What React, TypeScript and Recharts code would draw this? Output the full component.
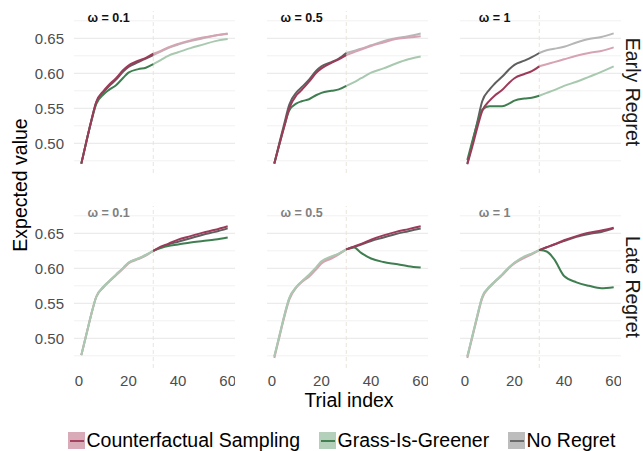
import React from 'react';
import { LineChart, Line, XAxis, YAxis, ReferenceLine, ReferenceDot } from 'recharts';

// ---- data ----
const TRIALS = [1, 3, 5, 7, 10, 12, 15, 18, 20, 24, 27, 30, 33, 36, 40, 45, 50, 55, 60];
const SWITCH_TRIAL = 30;
const OMEGA_LABELS = ['ω = 0.1', 'ω = 0.5', 'ω = 1'];
const ROW_LABELS = ['Early Regret', 'Late Regret'];
const SERIES_NAMES = ['Counterfactual Sampling', 'Grass-Is-Greener', 'No Regret'];
const Y_TICKS = [0.5, 0.55, 0.6, 0.65];
const Y_MINOR = [0.475, 0.525, 0.575, 0.625, 0.675];
const X_TICKS = [0, 20, 40, 60];

// Early Regret
const earlyW01CS = [0.471, 0.502, 0.532, 0.559, 0.575, 0.583, 0.593, 0.605, 0.611, 0.618, 0.622, 0.628, 0.632, 0.637, 0.642, 0.647, 0.651, 0.654, 0.657];
const earlyW01GIG = [0.471, 0.502, 0.531, 0.556, 0.570, 0.576, 0.583, 0.594, 0.601, 0.606, 0.608, 0.613, 0.619, 0.625, 0.630, 0.636, 0.641, 0.646, 0.649];
const earlyW01NR = [0.471, 0.502, 0.532, 0.558, 0.573, 0.581, 0.591, 0.603, 0.609, 0.616, 0.621, 0.626, 0.631, 0.636, 0.641, 0.646, 0.650, 0.654, 0.656];

const earlyW05CS = [0.471, 0.498, 0.524, 0.550, 0.569, 0.576, 0.588, 0.601, 0.607, 0.615, 0.620, 0.626, 0.630, 0.634, 0.639, 0.644, 0.649, 0.651, 0.653];
const earlyW05GIG = [0.471, 0.498, 0.524, 0.547, 0.557, 0.560, 0.563, 0.569, 0.572, 0.575, 0.577, 0.582, 0.587, 0.593, 0.601, 0.607, 0.614, 0.620, 0.624];
const earlyW05NR = [0.471, 0.500, 0.528, 0.555, 0.573, 0.580, 0.591, 0.604, 0.610, 0.616, 0.621, 0.629, 0.632, 0.635, 0.640, 0.646, 0.650, 0.653, 0.657];

const earlyW1CS = [0.470, 0.495, 0.522, 0.546, 0.561, 0.568, 0.576, 0.587, 0.593, 0.599, 0.603, 0.610, 0.613, 0.616, 0.620, 0.625, 0.629, 0.632, 0.637];
const earlyW1GIG = [0.476, 0.503, 0.528, 0.548, 0.553, 0.553, 0.553, 0.557, 0.561, 0.564, 0.565, 0.568, 0.572, 0.576, 0.582, 0.588, 0.595, 0.602, 0.610];
const earlyW1NR = [0.471, 0.500, 0.530, 0.560, 0.577, 0.585, 0.595, 0.606, 0.612, 0.618, 0.623, 0.629, 0.633, 0.635, 0.638, 0.644, 0.649, 0.652, 0.657];

// Late Regret
const lateW01CS = [0.476, 0.505, 0.534, 0.559, 0.573, 0.580, 0.590, 0.600, 0.607, 0.613, 0.618, 0.625, 0.631, 0.635, 0.641, 0.646, 0.651, 0.655, 0.660];
const lateW01GIG = [0.476, 0.505, 0.534, 0.559, 0.574, 0.581, 0.591, 0.601, 0.608, 0.614, 0.619, 0.625, 0.629, 0.632, 0.634, 0.637, 0.639, 0.641, 0.644];
const lateW01NR = [0.476, 0.505, 0.534, 0.559, 0.574, 0.581, 0.591, 0.601, 0.608, 0.614, 0.619, 0.625, 0.630, 0.634, 0.638, 0.643, 0.648, 0.652, 0.657];

const lateW05CS = [0.472, 0.501, 0.530, 0.555, 0.573, 0.580, 0.588, 0.599, 0.607, 0.614, 0.620, 0.627, 0.631, 0.635, 0.641, 0.647, 0.652, 0.656, 0.660];
const lateW05GIG = [0.474, 0.503, 0.532, 0.557, 0.574, 0.581, 0.591, 0.602, 0.610, 0.617, 0.621, 0.627, 0.630, 0.622, 0.614, 0.609, 0.606, 0.603, 0.601];
const lateW05NR = [0.474, 0.503, 0.532, 0.557, 0.574, 0.581, 0.590, 0.601, 0.609, 0.616, 0.621, 0.627, 0.630, 0.634, 0.639, 0.644, 0.649, 0.653, 0.657];

const lateW1CS = [0.472, 0.501, 0.530, 0.557, 0.573, 0.580, 0.590, 0.601, 0.607, 0.615, 0.620, 0.626, 0.630, 0.634, 0.640, 0.646, 0.651, 0.654, 0.658];
const lateW1GIG = [0.474, 0.503, 0.532, 0.559, 0.574, 0.581, 0.591, 0.602, 0.608, 0.617, 0.621, 0.626, 0.624, 0.613, 0.589, 0.580, 0.575, 0.5715, 0.573];
const lateW1NR = [0.474, 0.503, 0.532, 0.559, 0.574, 0.581, 0.591, 0.602, 0.608, 0.616, 0.621, 0.626, 0.630, 0.634, 0.639, 0.645, 0.649, 0.652, 0.657];

const PANEL_VALUES = [
  [
    { cs: earlyW01CS, gig: earlyW01GIG, nr: earlyW01NR },
    { cs: earlyW05CS, gig: earlyW05GIG, nr: earlyW05NR },
    { cs: earlyW1CS, gig: earlyW1GIG, nr: earlyW1NR },
  ],
  [
    { cs: lateW01CS, gig: lateW01GIG, nr: lateW01NR },
    { cs: lateW05CS, gig: lateW05GIG, nr: lateW05NR },
    { cs: lateW1CS, gig: lateW1GIG, nr: lateW1NR },
  ],
];

// ---- style ----
const COLORS: Record<string, { dark: string; light: string; key: string; keyLine: string }> = {
  cs: { dark: '#9e3a59', light: '#d6a3b2', key: '#d9abb8', keyLine: '#a3435f' },
  gig: { dark: '#3f7e50', light: '#a8c9af', key: '#b5d0ba', keyLine: '#3f8150' },
  nr: { dark: '#5f5f5f', light: '#b6b6b6', key: '#bdbdbd', keyLine: '#6a6a6a' },
};
const SERIES_KEYS = ['cs', 'gig', 'nr'];
const FONT = '"Liberation Sans", Arial, Helvetica, sans-serif';

const PLOT_X = [74, 267, 460];
const PLOT_W = 161;
const PLOT_Y = [11, 206];
const PLOT_H = 162;
const Y_AXIS_W = 74;
const X_AXIS_H = 30;
const X_DOMAIN: [number, number] = [-1.95, 62.95];
const Y_DOMAIN: [number, number] = [0.4576, 0.689];

function segment(values: number[], from: number, to: number) {
  return TRIALS.map((t, i) => ({ t, v: values[i] })).filter((p) => p.t >= from && p.t <= to);
}

function Panel({ row, col }: { row: number; col: number }) {
  const left = col === 0 ? PLOT_X[0] - Y_AXIS_W : PLOT_X[col];
  const width = PLOT_W + (col === 0 ? Y_AXIS_W : 0);
  const height = PLOT_H + (row === 1 ? X_AXIS_H : 0);
  const vals = PANEL_VALUES[row][col] as Record<string, number[]>;
  const early = row === 0;
  const darkSeg = (k: string) => (early ? segment(vals[k], 1, SWITCH_TRIAL) : segment(vals[k], SWITCH_TRIAL, 60));
  const lightSeg = (k: string) => (early ? segment(vals[k], SWITCH_TRIAL, 60) : segment(vals[k], 1, SWITCH_TRIAL));
  const lightOrder = ['nr', 'cs', 'gig'];
  const darkOrder = ['nr', 'gig', 'cs'];
  return (
    <div style={{ position: 'absolute', left, top: PLOT_Y[row] }}>
      <LineChart width={width} height={height} margin={{ top: 0, right: 0, bottom: 0, left: 0 }}>
        <XAxis
          dataKey="t"
          type="number"
          domain={X_DOMAIN}
          allowDataOverflow
          ticks={X_TICKS}
          interval={0}
          hide={row === 0}
          height={X_AXIS_H}
          tickLine={false}
          axisLine={false}
          tickSize={0}
          tickMargin={7}
          tick={{ fill: '#4d4d4d', fontSize: 15, fontFamily: FONT }}
        />
        <YAxis
          type="number"
          domain={Y_DOMAIN}
          allowDataOverflow
          ticks={Y_TICKS}
          interval={0}
          hide={col !== 0}
          width={Y_AXIS_W}
          tickLine={false}
          axisLine={false}
          tickSize={0}
          tickMargin={10}
          tickFormatter={(v: number) => v.toFixed(2)}
          tick={{ fill: '#4d4d4d', fontSize: 15, fontFamily: FONT }}
        />
        {Y_MINOR.map((v) => (
          <ReferenceLine key={'mi' + v} y={v} stroke="#f1f1f1" strokeWidth={1} />
        ))}
        {Y_TICKS.map((v) => (
          <ReferenceLine key={'ma' + v} y={v} stroke="#ebebeb" strokeWidth={1.2} />
        ))}
        <ReferenceLine x={SWITCH_TRIAL} stroke="#ebe5d9" strokeWidth={1} strokeDasharray="4 3" />
        <ReferenceDot
          x={12}
          y={0.68}
          r={0}
          fill="none"
          stroke="none"
          label={{
            value: OMEGA_LABELS[col],
            position: 'center',
            fill: row === 0 ? '#111111' : '#808080',
            fontSize: 12.5,
            fontWeight: 700,
            fontFamily: FONT,
          }}
        />
        {lightOrder.map((k) => (
          <Line
            key={'l' + k}
            data={lightSeg(k)}
            dataKey="v"
            type="monotone"
            stroke={COLORS[k].light}
            strokeWidth={2}
            dot={false}
            activeDot={false}
            isAnimationActive={false}
          />
        ))}
        {darkOrder.map((k) => (
          <Line
            key={'d' + k}
            data={darkSeg(k)}
            dataKey="v"
            type="monotone"
            stroke={COLORS[k].dark}
            strokeWidth={2}
            dot={false}
            activeDot={false}
            isAnimationActive={false}
          />
        ))}
      </LineChart>
    </div>
  );
}

const LEGEND_X = [68, 319, 508];

export default function App() {
  return (
    <div
      style={{
        position: 'absolute',
        left: 0,
        top: 0,
        width: 643,
        height: 451,
        background: '#ffffff',
        fontFamily: FONT,
        overflow: 'hidden',
      }}
    >
      {[0, 1].map((r) => [0, 1, 2].map((c) => <Panel key={r + '-' + c} row={r} col={c} />))}

      {ROW_LABELS.map((lab, r) => (
        <div
          key={lab}
          style={{
            position: 'absolute',
            left: 632,
            top: PLOT_Y[r] + PLOT_H / 2,
            transform: 'translate(-50%, -50%) rotate(90deg)',
            whiteSpace: 'nowrap',
            fontSize: 19.5,
            lineHeight: 1,
            color: '#1a1a1a',
          }}
        >
          {lab}
        </div>
      ))}

      <div
        style={{
          position: 'absolute',
          left: 21,
          top: 185,
          transform: 'translate(-50%, -50%) rotate(-90deg)',
          whiteSpace: 'nowrap',
          fontSize: 19.5,
          lineHeight: 1,
          color: '#000000',
        }}
      >
        Expected value
      </div>

      <div
        style={{
          position: 'absolute',
          left: 349,
          top: 401,
          transform: 'translate(-50%, -50%)',
          whiteSpace: 'nowrap',
          fontSize: 19.5,
          lineHeight: 1,
          color: '#000000',
        }}
      >
        Trial index
      </div>

      {SERIES_NAMES.map((name, i) => {
        const k = SERIES_KEYS[i];
        return (
          <div
            key={name}
            style={{
              position: 'absolute',
              left: LEGEND_X[i],
              top: 432,
              height: 17,
              display: 'flex',
              alignItems: 'center',
              whiteSpace: 'nowrap',
            }}
          >
            <div style={{ position: 'relative', width: 17, height: 17, background: COLORS[k].key }}>
              <div
                style={{
                  position: 'absolute',
                  left: 2,
                  right: 1,
                  top: 7.5,
                  height: 2,
                  background: COLORS[k].keyLine,
                }}
              />
            </div>
            <span style={{ marginLeft: 1.5, fontSize: 19.5, lineHeight: 1, color: '#000000' }}>{name}</span>
          </div>
        );
      })}
    </div>
  );
}
